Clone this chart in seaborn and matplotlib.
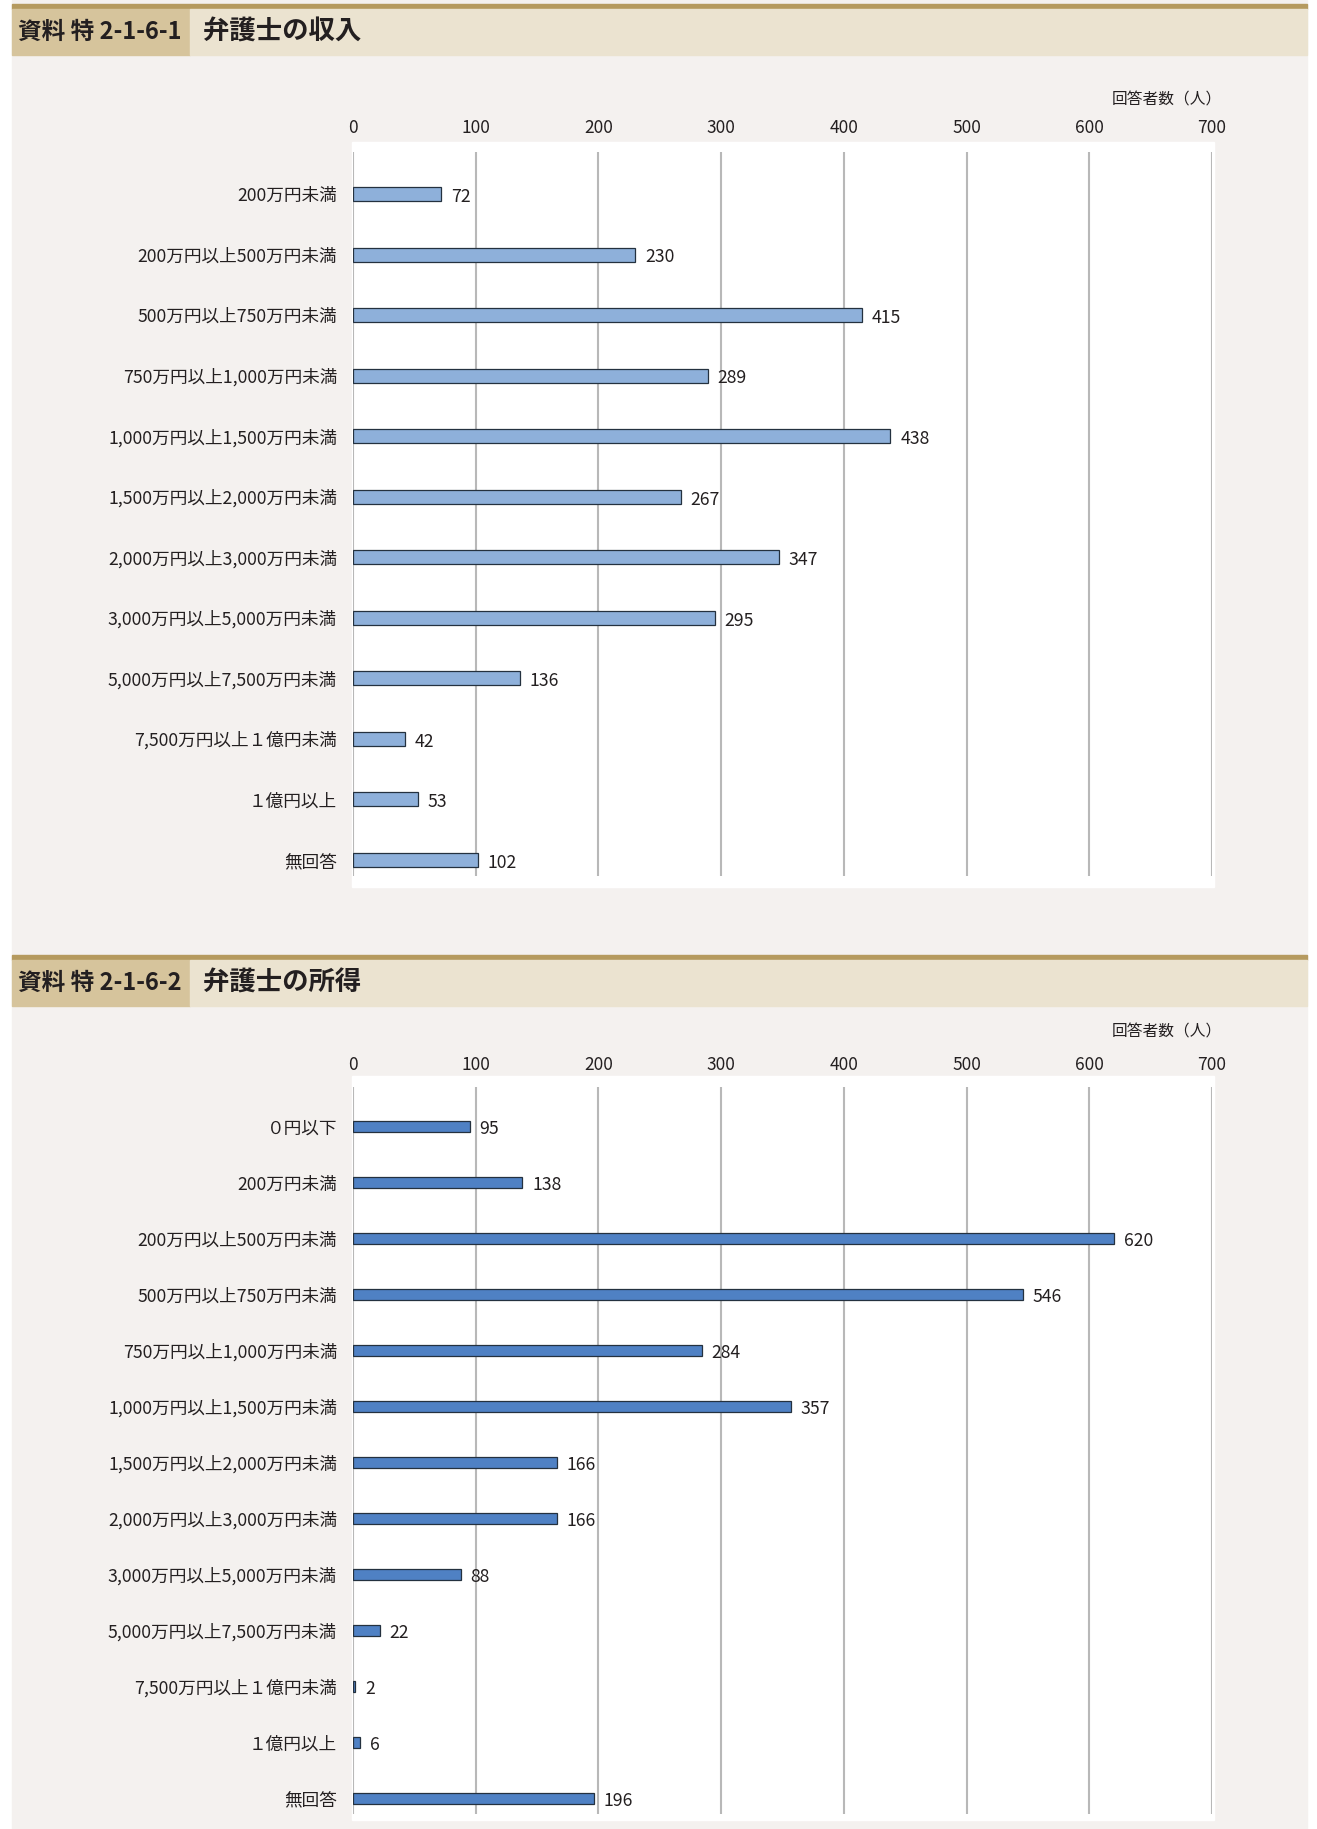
import matplotlib
matplotlib.use("Agg")
import matplotlib.pyplot as plt
from matplotlib.patches import Rectangle
import pandas as pd
import seaborn as sns

# data
incomeCategories = ["200万円未満", "200万円以上500万円未満", "500万円以上750万円未満",
                    "750万円以上1,000万円未満", "1,000万円以上1,500万円未満",
                    "1,500万円以上2,000万円未満", "2,000万円以上3,000万円未満",
                    "3,000万円以上5,000万円未満", "5,000万円以上7,500万円未満",
                    "7,500万円以上１億円未満", "１億円以上", "無回答"]
incomeCounts = [72, 230, 415, 289, 438, 267, 347, 295, 136, 42, 53, 102]

earningsCategories = ["０円以下", "200万円未満", "200万円以上500万円未満", "500万円以上750万円未満",
                      "750万円以上1,000万円未満", "1,000万円以上1,500万円未満",
                      "1,500万円以上2,000万円未満", "2,000万円以上3,000万円未満",
                      "3,000万円以上5,000万円未満", "5,000万円以上7,500万円未満",
                      "7,500万円以上１億円未満", "１億円以上", "無回答"]
earningsCounts = [95, 138, 620, 546, 284, 357, 166, 166, 88, 22, 2, 6, 196]

xTicks = [0, 100, 200, 300, 400, 500, 600, 700]

plt.rcParams['font.family'] = ['Noto Sans CJK JP', 'DejaVu Sans']

W, H = 1317, 1829
fig = plt.figure(figsize=(W / 100, H / 100), dpi=100, facecolor="white")

#helpers: pixel positions -> figure fractions
def fx(x):
    return x / W

def fy(y):
    return 1 - y / H

def box(x0, y0, x1, y1, color):
    fig.patches.append(Rectangle((fx(x0), fy(y1)), fx(x1) - fx(x0), fy(y0) - fy(y1),
                                 transform=fig.transFigure, color=color, zorder=-5))

#page background
box(12, 0, 1307, H, "#f4f1ef")

textColor = "#231f20"


def header(top, code, title):
    box(12, top, 1307, top + 5, "#b59a5f")
    box(12, top + 5, 190, top + 51, "#d6c49c")
    box(190, top + 5, 1307, top + 51, "#ebe3d0")
    fig.text(fx(18), fy(top + 28), code, fontsize=17, fontweight="bold", color=textColor, va="center")
    fig.text(fx(203), fy(top + 28), title, fontsize=19, fontweight="bold", color=textColor, va="center")


def chart(cats, vals, color, whiteTop, gridTop, gridBottom, whiteBottom,
          firstCenter, lastCenter, barWidth, labelY, tickPad):
    box(352, whiteTop, 1214, whiteBottom, "white")
    ax = fig.add_axes([fx(353), fy(gridBottom), fx(1212) - fx(353), fy(gridTop) - fy(gridBottom)])
    ax.set_zorder(2)
    ax.set_facecolor("none")
    df = pd.DataFrame({"cat": cats, "n": vals})
    sns.barplot(data=df, x="n", y="cat", orient="h", color=color, saturation=1,
                edgecolor="#24313f", linewidth=0.9, width=barWidth, ax=ax)
    n = len(cats)
    step = (lastCenter - firstCenter) / (n - 1)
    ax.set_ylim(n - 1 + (gridBottom - lastCenter) / step, -(firstCenter - gridTop) / step)
    ax.set_xlim(0, 700)
    ax.set_xticks(xTicks)
    ax.xaxis.tick_top()
    ax.tick_params(axis="x", length=0, pad=tickPad, labelsize=12.5, labelcolor=textColor)
    ax.tick_params(axis="y", length=0, pad=11.5, labelsize=12.7, labelcolor=textColor)
    ax.grid(axis="x", color="#b8b8b8", linewidth=1.5)
    ax.set_axisbelow(True)
    for s in ax.spines.values():
        s.set_visible(False)
    ax.set_xlabel("")
    ax.set_ylabel("")
    labels = ax.bar_label(ax.containers[0], padding=7, fontsize=12.7, color=textColor)
    #numbers sit a little below the bar centre in the original
    for t in labels:
        t.xyann = (7, -2)
    fig.text(fx(1222), fy(labelY), "回答者数（人）", fontsize=11.3, color=textColor, ha="right", va="center")
    return ax


header(4, "資料 特 2-1-6-1", "弁護士の収入")
chart(incomeCategories, incomeCounts, "#8eb0da", 142, 152, 876, 887, 194, 860, 0.23, 100, 10.5)

header(955, "資料 特 2-1-6-2", "弁護士の所得")
chart(earningsCategories, earningsCounts, "#4f81c4", 1076, 1087, 1814, 1820, 1126.5, 1798.5, 0.196, 1032, 9.5)

fig.savefig("out.png", dpi=100, facecolor=fig.get_facecolor())
